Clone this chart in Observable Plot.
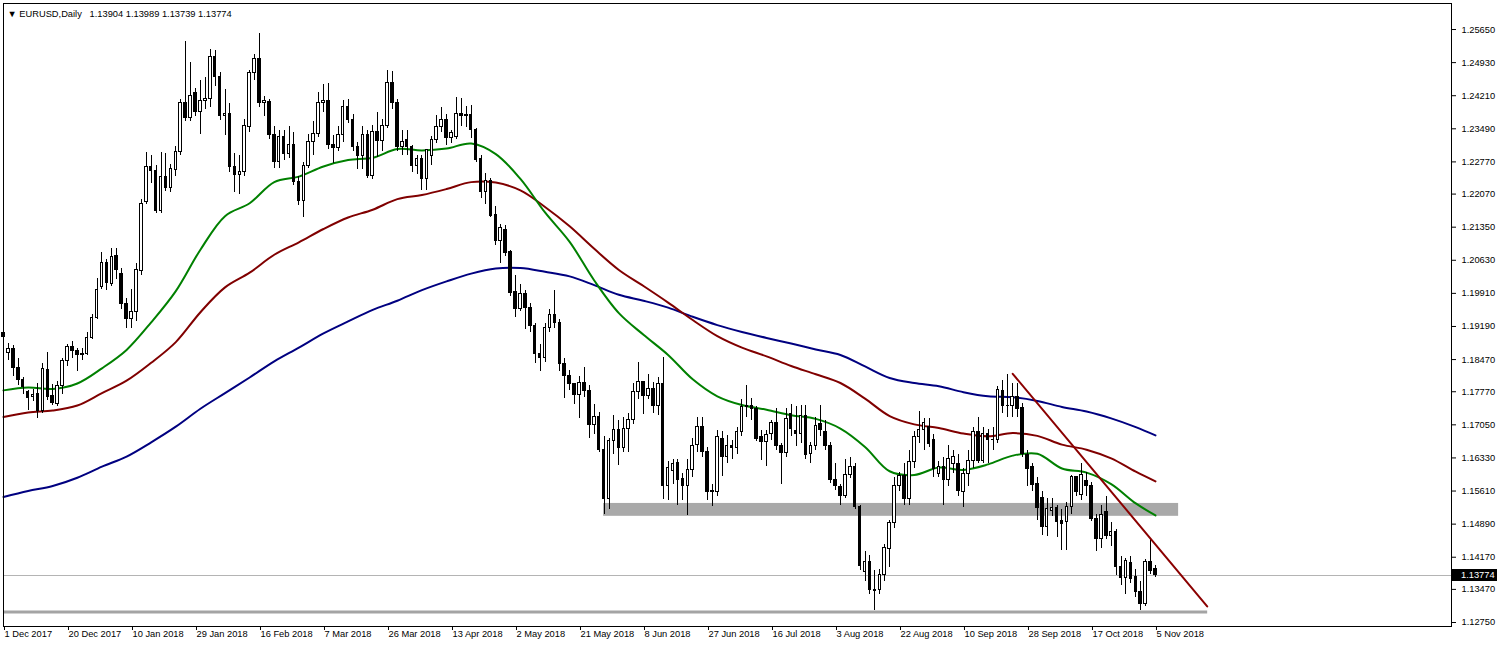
<!DOCTYPE html>
<html><head><meta charset="utf-8">
<script src="https://cdn.jsdelivr.net/npm/d3@7"></script>
<script src="https://cdn.jsdelivr.net/npm/@observablehq/plot@0.6"></script>
<style>html,body{margin:0;padding:0;background:#fff;} #chart svg{display:block;}</style>
</head><body><div id="chart"></div>
<script>
// ---- Data (EURUSD daily, bar index 0 = 1 Dec 2017) ----
const opens = [
1.1905,1.1862,1.1870,1.1829,1.1803,1.1776,1.1765,1.1773,1.1736,1.1825,
1.1767,1.1750,1.1790,1.1843,1.1875,1.1866,1.1858,1.1859,1.1895,1.1938,
1.2005,1.2057,1.2012,1.2073,1.2034,1.1968,1.1935,1.1950,1.2039,1.2190,
1.2267,1.2258,1.2170,1.2244,1.2220,1.2260,1.2298,1.2405,1.2373,1.2427,
1.2385,1.2410,1.2414,1.2505,1.2461,1.2376,1.2382,1.2265,1.2249,1.2255,
1.2353,1.2470,1.2501,1.2406,1.2408,1.2336,1.2277,1.2332,1.2294,1.2314,
1.2234,1.2192,1.2268,1.2320,1.2337,1.2405,1.2410,1.2313,1.2307,1.2335,
1.2396,1.2369,1.2309,1.2289,1.2336,1.2246,1.2342,1.2322,1.2356,1.2449,
1.2406,1.2309,1.2324,1.2309,1.2269,1.2284,1.2240,1.2290,1.2325,1.2354,
1.2368,1.2328,1.2332,1.2382,1.2376,1.2380,1.2347,1.2284,1.2211,1.2235,
1.2162,1.2105,1.2129,1.2081,1.1994,1.1957,1.1989,1.1960,1.1921,1.1860,
1.1851,1.1916,1.1945,1.1926,1.1838,1.1812,1.1794,1.1769,1.1796,1.1778,
1.1704,1.1722,1.1650,1.1544,1.1669,1.1693,1.1655,1.1697,1.1716,1.1776,
1.1798,1.1767,1.1783,1.1745,1.1794,1.1573,1.1605,1.1622,1.1587,1.1573,
1.1607,1.1662,1.1701,1.1645,1.1562,1.1558,1.1675,1.1636,1.1660,1.1655,
1.1689,1.1743,1.1747,1.1740,1.1678,1.1667,1.1685,1.1709,1.1658,1.1644,
1.1729,1.1692,1.1684,1.1725,1.1641,1.1658,1.1707,1.1689,1.1660,1.1585,
1.1569,1.1551,1.1595,1.1614,1.1527,1.1385,1.1406,1.1346,1.1346,1.1379,
1.1435,1.1491,1.1571,1.1593,1.1544,1.1624,1.1678,1.1693,1.1701,1.1671,
1.1598,1.1613,1.1584,1.1620,1.1620,1.1559,1.1598,1.1627,1.1689,1.1627,
1.1685,1.1671,1.1673,1.1778,1.1747,1.1747,1.1765,1.1741,1.1640,1.1613,
1.1577,1.1546,1.1483,1.1518,1.1524,1.1495,1.1493,1.1526,1.1591,1.1553,
1.1582,1.1573,1.1501,1.1457,1.1515,1.1464,1.1471,1.1395,1.1372,1.1404,
1.1374,1.1341,1.1316,1.1406,1.13904];
const highs = [
1.1941,1.1882,1.1878,1.1849,1.1809,1.1780,1.1782,1.1794,1.1838,1.1862,
1.1793,1.1800,1.1850,1.1880,1.1886,1.1870,1.1870,1.1905,1.1945,1.2023,
1.2081,1.2065,1.2088,1.2089,1.2045,1.1980,1.2000,1.2055,1.2195,1.2298,
1.2290,1.2270,1.2297,1.2296,1.2272,1.2310,1.2413,1.2539,1.2493,1.2437,
1.2455,1.2460,1.2522,1.2520,1.2472,1.2435,1.2405,1.2295,1.2290,1.2370,
1.2475,1.2510,1.2556,1.2420,1.2413,1.2355,1.2345,1.2345,1.2355,1.2340,
1.2246,1.2275,1.2336,1.2365,1.2428,1.2445,1.2447,1.2335,1.2355,1.2410,
1.2413,1.2380,1.2320,1.2355,1.2345,1.2357,1.2385,1.2370,1.2476,1.2474,
1.2413,1.2345,1.2345,1.2313,1.2292,1.2290,1.2305,1.2333,1.2378,1.2396,
1.2381,1.2346,1.2418,1.2414,1.2397,1.2400,1.2350,1.2290,1.2251,1.2240,
1.2180,1.2140,1.2138,1.2085,1.2030,1.2010,1.1998,1.1968,1.1925,1.1880,
1.1925,1.1955,1.1997,1.1935,1.1850,1.1823,1.1796,1.1810,1.1830,1.1790,
1.1750,1.1732,1.1680,1.1675,1.1725,1.1715,1.1720,1.1730,1.1796,1.1840,
1.1800,1.1814,1.1797,1.1808,1.1852,1.1625,1.1630,1.1630,1.1600,1.1630,
1.1675,1.1720,1.1720,1.1655,1.1575,1.1692,1.1690,1.1681,1.1672,1.1700,
1.1760,1.1791,1.1762,1.1745,1.1692,1.1692,1.1715,1.1740,1.1665,1.1740,
1.1750,1.1745,1.1746,1.1746,1.1667,1.1720,1.1747,1.1715,1.1666,1.1620,
1.1575,1.1630,1.1635,1.1620,1.1530,1.1430,1.1420,1.1388,1.1390,1.1445,
1.1497,1.1590,1.1602,1.1620,1.1650,1.1690,1.1733,1.1718,1.1718,1.1685,
1.1625,1.1634,1.1660,1.1650,1.1640,1.1610,1.1650,1.1700,1.1722,1.1700,
1.1695,1.1700,1.1788,1.1802,1.1815,1.1794,1.1796,1.1752,1.1650,1.1620,
1.1590,1.1560,1.1545,1.1545,1.1530,1.1520,1.1535,1.1595,1.1592,1.1621,
1.1602,1.1580,1.1510,1.1530,1.1550,1.1492,1.1478,1.1418,1.1415,1.1418,
1.1390,1.1365,1.1412,1.1456,1.13989];
const lows = [
1.1849,1.1846,1.1810,1.1791,1.1772,1.1736,1.1755,1.1718,1.1729,1.1758,
1.1747,1.1745,1.1772,1.1831,1.1850,1.1820,1.1845,1.1855,1.1890,1.1935,
1.2000,1.1998,1.2005,1.2022,1.1955,1.1915,1.1915,1.1930,1.2030,1.2185,
1.2230,1.2165,1.2165,1.2212,1.2210,1.2245,1.2290,1.2365,1.2365,1.2376,
1.2337,1.2390,1.2395,1.2440,1.2366,1.2335,1.2255,1.2210,1.2206,1.2245,
1.2340,1.2455,1.2395,1.2375,1.2325,1.2262,1.2262,1.2280,1.2285,1.2226,
1.2182,1.2155,1.2262,1.2290,1.2330,1.2385,1.2305,1.2273,1.2300,1.2320,
1.2360,1.2300,1.2260,1.2260,1.2240,1.2238,1.2287,1.2300,1.2350,1.2390,
1.2300,1.2290,1.2290,1.2255,1.2250,1.2215,1.2215,1.2270,1.2318,1.2340,
1.2313,1.2316,1.2325,1.2355,1.2352,1.2327,1.2275,1.2197,1.2185,1.2155,
1.2095,1.2055,1.2072,1.1985,1.1938,1.1952,1.1912,1.1905,1.1838,1.1821,
1.1840,1.1905,1.1915,1.1820,1.1763,1.1780,1.1750,1.1718,1.1765,1.1676,
1.1685,1.1645,1.1510,1.1520,1.1640,1.1617,1.1645,1.1645,1.1705,1.1760,
1.1727,1.1760,1.1730,1.1725,1.1542,1.1540,1.1575,1.1530,1.1540,1.1508,
1.1590,1.1645,1.1635,1.1540,1.1528,1.1550,1.1593,1.1620,1.1630,1.1640,
1.1680,1.1720,1.1715,1.1668,1.1628,1.1615,1.1670,1.1650,1.1575,1.1634,
1.1680,1.1657,1.1665,1.1630,1.1620,1.1650,1.1680,1.1650,1.1577,1.1562,
1.1530,1.1545,1.1588,1.1520,1.1388,1.1365,1.1335,1.1301,1.1335,1.1365,
1.1395,1.1480,1.1560,1.1530,1.1530,1.1610,1.1665,1.1650,1.1655,1.1590,
1.1590,1.1530,1.1570,1.1600,1.1550,1.1525,1.1570,1.1610,1.1620,1.1620,
1.1620,1.1650,1.1665,1.1730,1.1720,1.1720,1.1720,1.1635,1.1570,1.1560,
1.1497,1.1465,1.1463,1.1505,1.1460,1.1432,1.1432,1.1510,1.1549,1.1540,
1.1550,1.1495,1.1430,1.1435,1.1455,1.1440,1.1377,1.1355,1.1337,1.1360,
1.1330,1.1302,1.1310,1.1380,1.13739];
const closes = [
1.1896,1.1870,1.1829,1.1803,1.1788,1.1764,1.1771,1.1736,1.1827,1.1765,
1.1752,1.1790,1.1843,1.1874,1.1866,1.1856,1.1860,1.1895,1.1938,1.1999,
1.2057,1.2014,1.2070,1.2042,1.1968,1.1935,1.1951,1.2041,1.2185,1.2267,
1.2258,1.2170,1.2244,1.2220,1.2262,1.2298,1.2405,1.2373,1.2421,1.2385,
1.2410,1.2414,1.2505,1.2461,1.2376,1.2382,1.2265,1.2248,1.2255,1.2355,
1.2470,1.2501,1.2406,1.2410,1.2336,1.2277,1.2332,1.2294,1.2314,1.2234,
1.2192,1.2268,1.2320,1.2337,1.2405,1.2409,1.2313,1.2307,1.2335,1.2396,
1.2369,1.2309,1.2289,1.2336,1.2246,1.2342,1.2322,1.2356,1.2449,1.2406,
1.2309,1.2320,1.2309,1.2269,1.2284,1.2240,1.2302,1.2325,1.2354,1.2368,
1.2328,1.2339,1.2382,1.2376,1.2380,1.2347,1.2282,1.2211,1.2235,1.2160,
1.2105,1.2134,1.2078,1.1991,1.1957,1.1989,1.1960,1.1921,1.1860,1.1850,
1.1916,1.1945,1.1926,1.1838,1.1812,1.1794,1.1769,1.1796,1.1778,1.1704,
1.1722,1.1650,1.1544,1.1669,1.1693,1.1655,1.1697,1.1716,1.1776,1.1798,
1.1767,1.1783,1.1745,1.1794,1.1573,1.1611,1.1620,1.1584,1.1573,1.1607,
1.1660,1.1701,1.1645,1.1558,1.1558,1.1678,1.1635,1.1660,1.1655,1.1689,
1.1743,1.1747,1.1740,1.1675,1.1667,1.1682,1.1709,1.1658,1.1644,1.1718,
1.1697,1.1684,1.1725,1.1639,1.1660,1.1703,1.1693,1.1658,1.1584,1.1571,
1.1551,1.1595,1.1613,1.1527,1.1399,1.1406,1.1346,1.1343,1.1379,1.1438,
1.1491,1.1571,1.1593,1.1544,1.1624,1.1678,1.1694,1.1709,1.1664,1.1609,
1.1613,1.1584,1.1631,1.1635,1.1561,1.1598,1.1627,1.1689,1.1627,1.1685,
1.1671,1.1673,1.1780,1.1747,1.1745,1.1765,1.1739,1.1642,1.1609,1.1575,
1.1524,1.1483,1.1521,1.1525,1.1493,1.1490,1.1526,1.1591,1.1559,1.1595,
1.1572,1.1501,1.1457,1.1508,1.1464,1.1471,1.1395,1.1372,1.1408,1.1370,
1.1341,1.1316,1.1406,1.1387,1.13774];

const maIdx = [0,5,10,15,20,25,30,35,40,45,50,55,60,65,70,75,80,85,90,95,100,105,110,115,120,125,130,135,140,145,150,155,160,165,170,175,180,185,190,195,200,205,210,215,220,225,230,234];
const maGreen = [1.1780,1.1786,1.1783,1.1795,1.1828,1.1868,1.1928,1.1996,1.2086,1.2159,1.2187,1.2233,1.2245,1.2267,1.2281,1.2286,1.2305,1.2302,1.2306,1.2317,1.2294,1.2240,1.2167,1.2103,1.2019,1.1948,1.1901,1.1857,1.1804,1.1767,1.1748,1.1738,1.1726,1.1718,1.1697,1.1657,1.1604,1.1596,1.1612,1.1607,1.1619,1.1638,1.1642,1.1610,1.1601,1.1576,1.1534,1.1508];
const maMaroon = [1.1722,1.1732,1.1736,1.1747,1.1774,1.1801,1.1840,1.1885,1.1950,1.2004,1.2036,1.2075,1.2102,1.2131,1.2156,1.2173,1.2196,1.2205,1.2218,1.2233,1.2232,1.2215,1.2179,1.2137,1.2088,1.2042,1.2007,1.1971,1.1933,1.1898,1.1873,1.1854,1.1833,1.1815,1.1796,1.1762,1.1724,1.1706,1.1698,1.1686,1.1680,1.1687,1.1681,1.1662,1.1651,1.1632,1.1603,1.1582];
const maNavy = [1.1548,1.1561,1.1572,1.1590,1.1614,1.1636,1.1667,1.1701,1.1740,1.1774,1.1808,1.1843,1.1873,1.1904,1.1930,1.1955,1.1975,1.1998,1.2017,1.2034,1.2045,1.2046,1.2038,1.2028,1.2009,1.1988,1.1975,1.1960,1.1940,1.1922,1.1907,1.1894,1.1882,1.1869,1.1857,1.1832,1.1807,1.1796,1.1789,1.1776,1.1767,1.1765,1.1757,1.1744,1.1734,1.1719,1.1700,1.1682];

// Drawn objects
const trendIdx = [205, 244.5];
const trendPrice = [1.1816, 1.1310];
const zoneIdx = [121.9, 238.7];
const zonePrice = [1.1506, 1.1534];
const supportIdx = [0, 244.6];
const supportPrice = 1.1298;
const currentPrice = 1.13774;

// Axes
const dateTickIdx = [0,13,26,39,52,65,78,91,104,117,130,143,156,169,182,195,208,221,234];
const dateLabels = ["1 Dec 2017","20 Dec 2017","10 Jan 2018","29 Jan 2018","16 Feb 2018","7 Mar 2018","26 Mar 2018","13 Apr 2018","2 May 2018","21 May 2018","8 Jun 2018","27 Jun 2018","16 Jul 2018","3 Aug 2018","22 Aug 2018","10 Sep 2018","28 Sep 2018","17 Oct 2018","5 Nov 2018"];
const priceTicks = [1.2565,1.2493,1.2421,1.2349,1.2277,1.2207,1.2135,1.2063,1.1991,1.1919,1.1847,1.1777,1.1705,1.1633,1.1561,1.1489,1.1417,1.1347,1.1275];
const header = "\u25BC EURUSD,Daily\u00A0\u00A0 1.13904 1.13989 1.13739 1.13774";

// ---- Build ----
const bars = opens.map((o, i) => ({i, o, h: highs[i], l: lows[i], c: closes[i]}));
const maRows = (vals) => maIdx.map((i, k) => ({i, p: vals[k]}));
const trend = trendIdx.map((i, k) => ({i, p: trendPrice[k]}));
const zone = [{x1: zoneIdx[0], x2: zoneIdx[1], y1: zonePrice[0], y2: zonePrice[1]}];
const labelMap = new Map(dateTickIdx.map((v, k) => [v, dateLabels[k]]));
const FONT = "'Liberation Sans', Arial, 'DejaVu Sans', sans-serif";

function priceTag(index, scales, values, dims) {
  const y = scales.y(currentPrice);
  const x0 = dims.width - dims.marginRight;
  const g = d3.create("svg:g");
  g.append("rect").attr("x", x0 + 1).attr("y", Math.round(y) - 6).attr("width", dims.marginRight - 1).attr("height", 12).attr("fill", "#000");
  g.append("text").attr("x", x0 + 10).attr("y", y).attr("dy", "0.35em")
    .attr("text-anchor", "start")
    .attr("fill", "#fff").attr("font-family", FONT).attr("font-size", "9.3px")
    .text(currentPrice.toFixed(5));
  return g.node();
}

const plot = Plot.plot({
  width: 1497, height: 646,
  marginLeft: 3, marginRight: 46, marginTop: 3, marginBottom: 20,
  style: {fontFamily: FONT, fontSize: "9.3px", background: "#fff", color: "#000"},
  x: {type: "linear", domain: [0, 294.13]},
  y: {type: "linear", domain: [1.12663, 1.26216]},
  marks: [
    Plot.rect(zone, {x1: "x1", x2: "x2", y1: "y1", y2: "y2", fill: "#a9a9a9"}),
    Plot.ruleY([supportPrice], {y: d => d, x1: supportIdx[0], x2: supportIdx[1], stroke: "#a4a4a4", strokeWidth: 3}),
    Plot.ruleY([currentPrice], {y: d => d, stroke: "#b4b4b4", strokeWidth: 1, shapeRendering: "crispEdges"}),
    Plot.line(maRows(maNavy), {x: "i", y: "p", stroke: "#000080", strokeWidth: 2, curve: "catmull-rom"}),
    Plot.line(maRows(maMaroon), {x: "i", y: "p", stroke: "#800000", strokeWidth: 2, curve: "catmull-rom"}),
    Plot.line(maRows(maGreen), {x: "i", y: "p", stroke: "#008000", strokeWidth: 2, curve: "catmull-rom"}),
    Plot.ruleX(bars, {x: "i", y1: "l", y2: "h", stroke: "#000", strokeWidth: 1, shapeRendering: "crispEdges"}),
    Plot.rect(bars, {x1: d => d.i - 0.26, x2: d => d.i + 0.26, y1: "o", y2: "c",
      fill: d => d.c >= d.o ? "#ffffff" : "#000000", stroke: "#000", strokeWidth: 1, shapeRendering: "crispEdges"}),
    Plot.line(trend, {x: "i", y: "p", stroke: "#8b0000", strokeWidth: 2}),
    Plot.frame({stroke: "#000", shapeRendering: "crispEdges"}),
    Plot.axisX({ticks: dateTickIdx, tickFormat: d => labelMap.get(d), tickSize: 4, tickPadding: 0, textAnchor: "start", dx: 1, label: null}),
    Plot.axisY({anchor: "right", ticks: priceTicks, tickFormat: d => d.toFixed(5), tickSize: 4, tickPadding: 6, label: null}),
    Plot.text([header], {text: d => d, frameAnchor: "top-left", dx: 4, dy: 7, textAnchor: "start", fill: "#000"}),
    priceTag
  ]
});
document.getElementById("chart").appendChild(plot);
</script>
</body></html>
